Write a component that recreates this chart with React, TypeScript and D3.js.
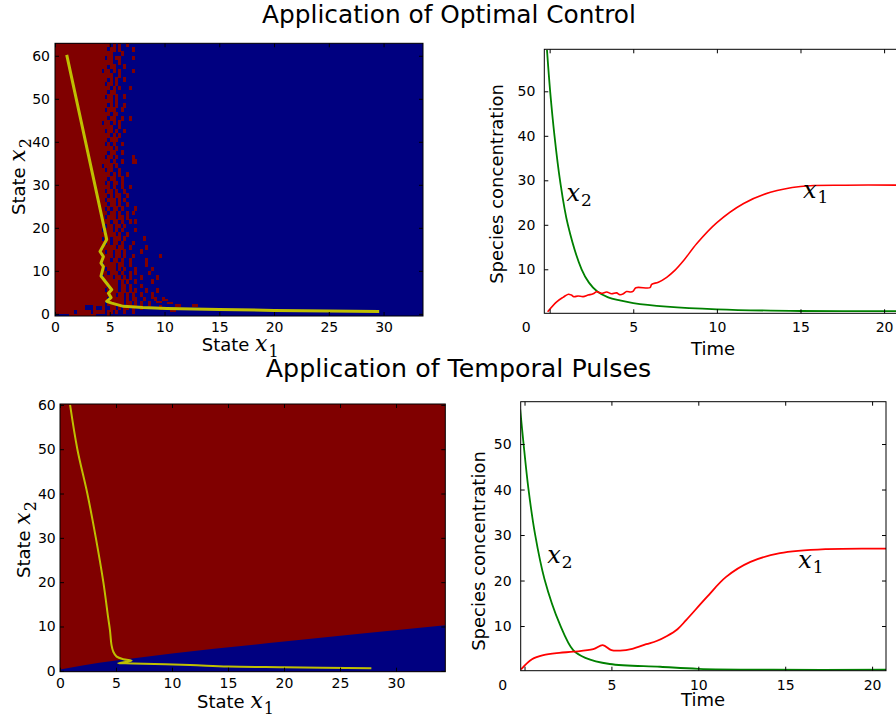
import React, { useEffect, useRef } from 'react';
import * as d3 from 'd3';

const W = 896;
const H = 719;

const RED = '#800000';
const BLUE = '#000080';
const YELLOW = '#bfbf00';
const SANS = 'DejaVu Sans, sans-serif';
const SERIF = 'DejaVu Serif, serif';

// ---- top-left: optimal control policy map (x1, x2) ----
const ocPath: [number, number][] = [
  [1.07, 60.2], [4.72, 17.3], [4.11, 14.5], [4.42, 13.3], [4.2, 11.8], [4.42, 11.0], [4.2, 8.8],
  [5.18, 5.6], [4.88, 4.8], [5.12, 3.8], [4.72, 2.9], [5.18, 2.5], [6.24, 1.75], [8, 1.46],
  [10.2, 1.25], [15, 1.0], [20, 0.8], [25, 0.65], [29.6, 0.55],
];

// mixed zone, one row per unit of x2 (62..2), cells of 0.25 in x1 from 3.5
const mixStart = 3.5;
const mixStep = 0.25;
const mixRows: string[] = [
  'rrrrrr.r.r..r.............',
  'rrrrr.rr.r....r...........',
  'rrrrrrr...r...............',
  'rrrr.rr.rr....r...........',
  'rrrrrrr..r................',
  'rrrrr.rr...r..............',
  'rrr.rr.r.r....r...........',
  'rrrrrrr..r................',
  'rrrrr.r.r..r..............',
  'rrrr.rr.r.................',
  'rrrrrr.r.r...r............',
  'rrrrr.rr..................',
  'rrrr.rr.r..r..............',
  'rrrrrrr.r.................',
  'rrrrr.r.r..r..............',
  'rrrr.rrr..r...............',
  'rrrrrr.rr.................',
  'rrrrr.rr..r..r............',
  'rrr.rr.r.r................',
  'rrrrrrr..r................',
  'rrrr.rr.r..r..............',
  'rrrrrr.r.r................',
  'rrrrr.rrr.................',
  'rrrr.r.r..r...............',
  'rrrrrrr.r.................',
  'rrrrr.rr..r...............',
  'rrrr.rr.r.....r...........',
  'rrrrrr.r..r...rr..........',
  'rrr.rrr.r.................',
  'rrrr.rr..r................',
  'rrrrrr.r.r..r.............',
  'rrrrr.rr..r...............',
  'rrrr.r.rr.r...............',
  'rrrrrr.r..r..r............',
  'rrrr.rr.r..r..............',
  'rrrrr.r.rr..r.............',
  'rrrr.rrr.r.r..............',
  'rrrrr.rr.r..r.............',
  'rrrr.r.rr.r....r..........',
  'rrrrr.rr.r..r.r...........',
  'rrrr.rrr.rr.r.............',
  'rrr.rr.rr.r..r.r..........',
  'rrrr.rr.rr.r..............',
  'rrr.rrr.r.r....r..........',
  'rrrr.rrr.r..r.............',
  'rrr.rr.rrr.r......r.......',
  'rrrr.r.rr.r...r...........',
  'rrr.rrrr.rr..r.....r......',
  'rrrr.rr.rr.r.....r........',
  'rrr.rrr.rr.r..r.........r.',
  'rrrrrr.rr.r..r.....r......',
  'rrr.rrrr.rr..r.....r......',
  'rrrr.rrr.r.r...r.....r....',
  'rrrrr.rrr.r..r.r....r.....',
  'rrr.rrr.rr.r.r...r.....r..',
  'rrrr.rrrr.r.r..r.....r....',
  'rrrrr.rrr.rr.r...r........',
  'rrrr.rrrr.rr.r.r...r...r..',
  'rrrrrrrr.rr.r.r..r...r....',
  'rrrrr.rrrrr.r.rr..r...r..r',
  'rrrr.rrrrrr.rr.r.r..r.....',
];
const mixTop = 62;
// bottom rows (x2 = 1, 0, -1), cells of 0.25 from x1 = 0
const bottomRows: string[] = [
  'rrrrrrrrrrr...r..r..rr.r.rr.r..r......r.',
  'rrrrrrr.rrrrr.rrrr.rr.r..r..r...........',
  '.....rrrrrrrrrr....r....................',
];
const extraRed: [number, number][] = [
  [8.75, 3.5], [9.25, 2.5], [9.75, 3], [10.25, 2.25], [11, 1.75], [12.5, 1.75], [10.5, 0.5],
];

// ---- bottom-left: temporal pulses policy map ----
const tpPath: [number, number][] = [
  [0.9, 60], [1.55, 50], [2.44, 40], [3.2, 30], [3.87, 20], [4.3, 12], [4.46, 9.2], [4.6, 5.8],
  [4.76, 4.3], [5.06, 3.2], [5.65, 2.6], [6.4, 2.26], [5.2, 1.75], [6.5, 1.67], [11.6, 1.29],
  [15, 0.95], [20, 0.8], [27.8, 0.6],
];
const tpBoundary: [number, number][] = [
  [0, 0.3], [2, 1.2], [5, 2.3], [10, 3.9], [20, 6.6], [34.4, 10.3],
];

// ---- time courses ----
const ocX2: [number, number][] = [
  [-0.16, 59.3], [0.03, 50], [0.29, 40], [0.62, 30], [1.09, 20], [1.91, 10], [2.35, 7], [2.85, 5],
  [3.5, 3.7], [4.2, 3.0], [5, 2.4], [7, 1.6], [10, 1.0], [15, 0.63], [21, 0.6],
];
const ocX1: [number, number][] = [
  [-0.12, 0.47], [0.42, 2.7], [0.8, 3.7], [1.12, 4.4], [1.3, 4.2], [1.45, 3.85], [1.7, 4.0],
  [2.0, 3.85], [2.3, 4.2], [2.6, 4.5], [2.81, 4.97], [3.1, 4.6], [3.41, 4.9], [3.7, 4.5],
  [4.0, 4.7], [4.2, 4.3], [4.41, 4.5], [4.6, 5.0], [4.85, 4.9], [5.0, 5.1], [5.16, 5.87],
  [6.0, 5.87], [6.1, 6.62], [6.5, 7.1], [7.0, 8.2], [7.5, 9.8], [8.0, 11.9], [8.8, 15.8],
  [10, 20.5], [11.6, 24.8], [13.2, 27.3], [15, 28.6], [17.7, 28.9], [21, 28.9],
];
const tpX2: [number, number][] = [
  [-0.25, 57.6], [-0.07, 50.6], [0.22, 40.3], [0.6, 30.3], [1.15, 20.3], [2.04, 10.3],
  [2.8, 4.7], [3.5, 3.0], [4.9, 1.65], [7.8, 1.05], [10, 0.6], [14.3, 0.4], [20.8, 0.4],
];
const tpX1: [number, number][] = [
  [-0.2, 0.48], [0.43, 2.7], [1.08, 3.6], [2.0, 4.1], [2.8, 4.35], [3.96, 4.9], [4.5, 5.8],
  [5.0, 4.7], [5.5, 4.6], [6.2, 5.0], [7.0, 6.0], [7.6, 6.7], [8.2, 7.8], [8.8, 9.3],
  [9.3, 11.3], [10.5, 16.4], [11.6, 20.8], [13.0, 24.1], [14.7, 26.0], [17.4, 26.9], [20.8, 27.0],
];

const stateXTicks = [0, 5, 10, 15, 20, 25, 30];
const stateYTicks = [0, 10, 20, 30, 40, 50, 60];
const timeXTicks = [0, 5, 10, 15, 20];
const timeXLabels = [5, 10, 15, 20];
const timeYTicks = [10, 20, 30, 40, 50];

type Sel = d3.Selection<SVGGElement, unknown, null, undefined>;

function frame(g: Sel, x: any, y: any, xt: number[], yt: number[], xl: number[], yl: number[], xPad: number, yPad: number) {
  const [l, r] = x.range();
  const [b, t] = y.range();
  const fmt = (labels: number[]) => (d: any) => (labels.includes(d) ? String(d) : '');
  const style = (a: Sel) => a.attr('font-family', SANS).attr('font-size', 14).call((s) => s.select('.domain').remove());
  g.append('g').attr('transform', `translate(0,${b})`)
    .call(d3.axisBottom(x).tickValues(xt).tickSize(-4).tickPadding(xPad).tickFormat(fmt(xl)) as any).call(style);
  g.append('g').attr('transform', `translate(0,${t})`)
    .call(d3.axisTop(x).tickValues(xt).tickSize(-4).tickFormat(() => '') as any).call(style);
  g.append('g').attr('transform', `translate(${l},0)`)
    .call(d3.axisLeft(y).tickValues(yt).tickSize(-4).tickPadding(yPad).tickFormat(fmt(yl)) as any).call(style);
  g.append('g').attr('transform', `translate(${r},0)`)
    .call(d3.axisRight(y).tickValues(yt).tickSize(-4).tickFormat(() => '') as any).call(style);
  g.append('rect').attr('x', l).attr('y', t).attr('width', r - l).attr('height', b - t)
    .attr('fill', 'none').attr('stroke', '#000').attr('stroke-width', 1);
}

// italic x with a subscript digit
function mathLabel(g: Sel, x: number, y: number, sub: string) {
  const t = g.append('text').attr('font-family', SERIF).attr('transform', `translate(${x},${y})`);
  t.append('tspan').attr('font-style', 'italic').attr('font-size', 24).text('x');
  t.append('tspan').attr('font-size', 17).attr('dy', 5).attr('dx', 1).text(sub);
}

function stateLabel(g: Sel, x: number, y: number, sub: string, rotate: boolean) {
  const t = g.append('text')
    .attr('transform', rotate ? `translate(${x},${y}) rotate(-90)` : `translate(${x},${y})`);
  t.append('tspan').attr('font-family', SANS).attr('font-size', 18).text('State ');
  t.append('tspan').attr('font-family', SERIF).attr('font-style', 'italic').attr('font-size', 22).text('x');
  t.append('tspan').attr('font-family', SERIF).attr('font-size', 16).attr('dy', 6).attr('dx', 1).text(sub);
}

const App = () => {
  const ref = useRef<SVGSVGElement>(null);

  useEffect(() => {
    const svg = d3.select(ref.current);
    svg.selectAll('*').remove();
    const root = svg.append('g') as unknown as Sel;
    const defs = svg.append('defs');
    const clip = (id: string, x: any, y: any) => {
      const [l, r] = x.range();
      const [b, t] = y.range();
      defs.append('clipPath').attr('id', id).append('rect')
        .attr('x', l).attr('y', t).attr('width', r - l).attr('height', b - t);
      return `url(#${id})`;
    };
    const smooth = d3.curveCatmullRom.alpha(0.5);

    root.append('text').attr('x', 449).attr('y', 23).attr('text-anchor', 'middle')
      .attr('font-family', SANS).attr('font-size', 24.8).text('Application of Optimal Control');
    root.append('text').attr('x', 458.5).attr('y', 377).attr('text-anchor', 'middle')
      .attr('font-family', SANS).attr('font-size', 25.3).text('Application of Temporal Pulses');

    // ---------- panel 1 ----------
    {
      const x = d3.scaleLinear().domain([0, 33.6]).range([55, 423]);
      const y = d3.scaleLinear().domain([-0.5, 62.9]).range([316, 43.3]);
      const g = root.append('g').attr('clip-path', clip('c1', x, y)).attr('shape-rendering', 'crispEdges');
      g.append('rect').attr('x', x(0)).attr('y', y(62.9)).attr('width', x(33.6) - x(0)).attr('height', y(-0.5) - y(62.9)).attr('fill', BLUE);
      g.append('rect').attr('x', x(0)).attr('y', y(62.9)).attr('width', x(mixStart) - x(0)).attr('height', y(2) - y(62.9)).attr('fill', RED);
      const cells: { x1: number; x2: number; w: number; h: number }[] = [];
      mixRows.forEach((row, i) => {
        row.split('').forEach((c, j) => {
          if (c === 'r') cells.push({ x1: mixStart + j * mixStep, x2: mixTop - i, w: mixStep, h: 1 });
        });
      });
      bottomRows.forEach((row, i) => {
        row.split('').forEach((c, j) => {
          if (c === 'r') cells.push({ x1: j * mixStep, x2: 1 - i, w: mixStep, h: 1 });
        });
      });
      extraRed.forEach(([a, b]) => cells.push({ x1: a, x2: b, w: 0.5, h: 0.5 }));
      g.selectAll('rect.cell').data(cells).enter().append('rect').attr('class', 'cell')
        .attr('x', (d) => x(d.x1)).attr('y', (d) => y(d.x2 + d.h))
        .attr('width', (d) => x(d.x1 + d.w) - x(d.x1) + 0.3).attr('height', (d) => y(d.x2) - y(d.x2 + d.h) + 0.3)
        .attr('fill', RED);
      root.append('path').attr('clip-path', 'url(#c1)').datum(ocPath)
        .attr('d', d3.line<[number, number]>().x((d) => x(d[0])).y((d) => y(d[1])))
        .attr('fill', 'none').attr('stroke', YELLOW).attr('stroke-width', 3).attr('stroke-linejoin', 'round');
      frame(root, x, y, stateXTicks, stateYTicks, stateXTicks, stateYTicks, 6, 5);
      stateLabel(root, 201.7, 350.7, '1', false);
      stateLabel(root, 25, 215, '2', true);
    }

    // ---------- panel 2 ----------
    {
      const x = d3.scaleLinear().domain([-0.32, 21.07]).range([544.3, 902]);
      const y = d3.scaleLinear().domain([0.11, 59.44]).range([313.3, 49.3]);
      const cp = clip('c2', x, y);
      const line = d3.line<[number, number]>().x((d) => x(d[0])).y((d) => y(d[1])).curve(smooth);
      root.append('path').attr('clip-path', cp).datum(ocX2).attr('d', line)
        .attr('fill', 'none').attr('stroke', '#008000').attr('stroke-width', 1.8);
      root.append('path').attr('clip-path', cp).datum(ocX1).attr('d', line)
        .attr('fill', 'none').attr('stroke', '#ff0000').attr('stroke-width', 1.6);
      frame(root, x, y, timeXTicks, timeYTicks, timeXLabels, timeYTicks, 8.7, 9);
      root.append('text').attr('x', 544.3 - 18).attr('y', 313.3 + 19).attr('text-anchor', 'middle')
        .attr('font-family', SANS).attr('font-size', 14).text('0');
      mathLabel(root, 566.5, 201, '2');
      mathLabel(root, 803, 198, '1');
      root.append('text').attr('x', 713).attr('y', 355).attr('text-anchor', 'middle')
        .attr('font-family', SANS).attr('font-size', 18).text('Time');
      root.append('text').attr('transform', 'translate(503,184) rotate(-90)').attr('text-anchor', 'middle')
        .attr('font-family', SANS).attr('font-size', 18).text('Species concentration');
    }

    // ---------- panel 3 ----------
    {
      const x = d3.scaleLinear().domain([0, 34.4]).range([60, 445.3]);
      const y = d3.scaleLinear().domain([-0.2, 60.2]).range([671.7, 404]);
      const cp = clip('c3', x, y);
      root.append('rect').attr('x', x(0)).attr('y', y(60.2)).attr('width', x(34.4) - x(0)).attr('height', y(-0.2) - y(60.2)).attr('fill', RED);
      root.append('path').attr('clip-path', cp).datum(tpBoundary)
        .attr('d', d3.area<[number, number]>().x((d) => x(d[0])).y0(y(-0.2)).y1((d) => y(d[1])).curve(d3.curveMonotoneX))
        .attr('fill', BLUE);
      root.append('path').attr('clip-path', cp).datum(tpPath)
        .attr('d', d3.line<[number, number]>().x((d) => x(d[0])).y((d) => y(d[1])).curve(smooth))
        .attr('fill', 'none').attr('stroke', YELLOW).attr('stroke-width', 2).attr('stroke-linejoin', 'round');
      frame(root, x, y, stateXTicks, stateYTicks, stateXTicks, stateYTicks, 6.3, 4.3);
      stateLabel(root, 197, 708.3, '1', false);
      stateLabel(root, 30, 578, '2', true);
    }

    // ---------- panel 4 ----------
    {
      const x = d3.scaleLinear().domain([-0.22, 20.8]).range([520.7, 886]);
      const y = d3.scaleLinear().domain([0.18, 59.3]).range([670.7, 401.7]);
      const cp = clip('c4', x, y);
      const line = d3.line<[number, number]>().x((d) => x(d[0])).y((d) => y(d[1])).curve(smooth);
      root.append('path').attr('clip-path', cp).datum(tpX2).attr('d', line)
        .attr('fill', 'none').attr('stroke', '#008000').attr('stroke-width', 1.8);
      root.append('path').attr('clip-path', cp).datum(tpX1).attr('d', line)
        .attr('fill', 'none').attr('stroke', '#ff0000').attr('stroke-width', 1.8);
      frame(root, x, y, timeXTicks, timeYTicks, timeXLabels, timeYTicks, 9.3, 9);
      root.append('text').attr('x', 520.7 - 18).attr('y', 670.7 + 19).attr('text-anchor', 'middle')
        .attr('font-family', SANS).attr('font-size', 14).text('0');
      mathLabel(root, 547.3, 562.7, '2');
      mathLabel(root, 798.3, 568.3, '1');
      root.append('text').attr('x', 703).attr('y', 706).attr('text-anchor', 'middle')
        .attr('font-family', SANS).attr('font-size', 18).text('Time');
      root.append('text').attr('transform', 'translate(485,551) rotate(-90)').attr('text-anchor', 'middle')
        .attr('font-family', SANS).attr('font-size', 18).text('Species concentration');
    }
  }, []);

  return (
    <svg ref={ref} width={W} height={H} style={{ position: 'absolute', left: 0, top: 0, background: '#fff' }} />
  );
};

export default App;
